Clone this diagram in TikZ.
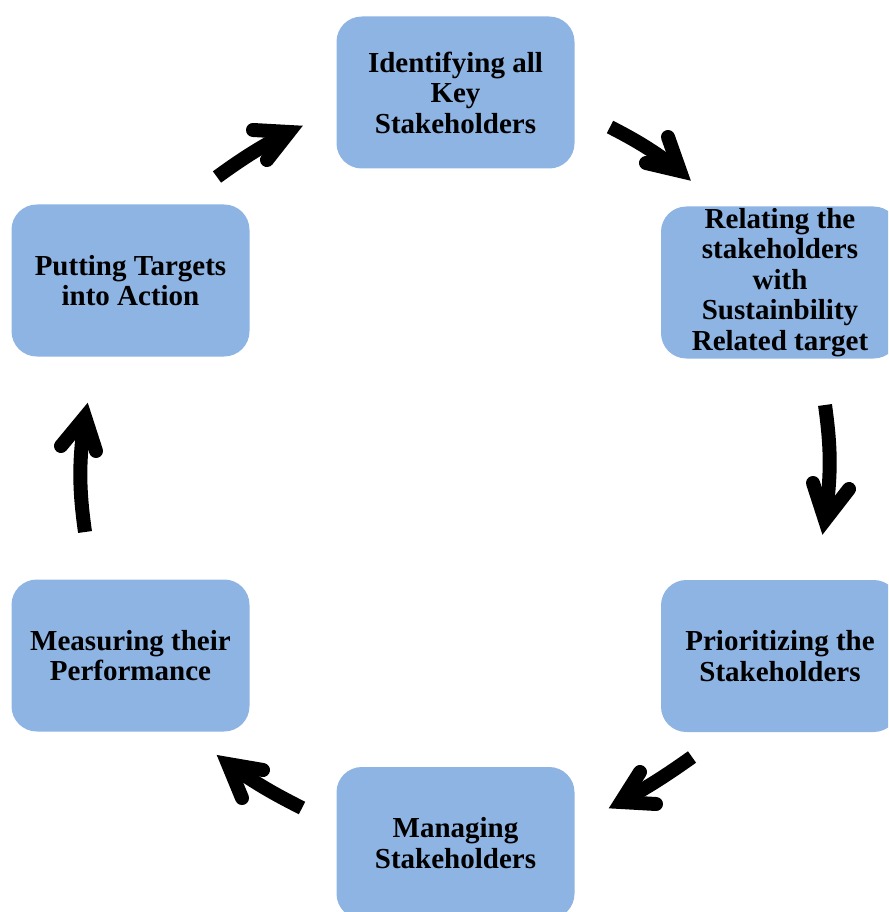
\documentclass[tikz,border=0pt]{standalone}
\usepackage{fontspec}
\setmainfont{Liberation Serif}
\definecolor{boxblue}{HTML}{8EB4E3}
\begin{document}
\begin{tikzpicture}[x=0.75pt,y=-0.75pt,
  box/.style={fill=boxblue, rounded corners=19pt, minimum width=178.5pt, minimum height=114pt,
    align=center, inner sep=0pt, font=\fontsize{21.75}{22.9}\selectfont\bfseries},
  shaft/.style={line width=10.5pt, line cap=butt},
  head/.style={line width=10.5pt, line cap=round, line join=miter, miter limit=10}]
\useasboundingbox (0,0) rectangle (888,912);
\clip (0,0) rectangle (888,912);
\node[box] (n1) at (455.5,92.5) {Identifying all\\Key\\Stakeholders};
\node[box] (n2) at (780,282.5) {Relating the\\stakeholders\\with\\Sustainbility\\Related target};
\node[box] (n3) at (780,656) {Prioritizing the\\Stakeholders};
\node[box] (n4) at (455.5,843) {Managing\\Stakeholders};
\node[box] (n5) at (130.5,655.5) {Measuring their\\Performance};
\node[box] (n6) at (130.5,280.5) {Putting Targets\\into Action};
% arrow 1
\coordinate (s1) at (217,177); \coordinate (j1) at (289,132);
\coordinate (a1) at (253,130); \coordinate (b1) at (267,160);
\draw[shaft] (s1) to[bend left=4] (j1);
\draw[head] (a1) -- (j1) -- (b1);
% arrow 2
\coordinate (s2) at (610,127); \coordinate (j2) at (680,171);
\coordinate (a2) at (668,137); \coordinate (b2) at (646,163);
\draw[shaft] (s2) to[bend left=5] (j2);
\draw[head] (a2) -- (j2) -- (b2);
% arrow 3
\coordinate (s3) at (825,405); \coordinate (j3) at (825,520);
\coordinate (a3) at (813,483); \coordinate (b3) at (849,489);
\draw[shaft] (s3) to[bend left=8] (j3);
\draw[head] (a3) -- (j3) -- (b3);
% arrow 4
\coordinate (s4) at (692,757); \coordinate (j4) at (621,802);
\coordinate (a4) at (640,772); \coordinate (b4) at (656,804);
\draw[shaft] (s4) to[bend left=3] (j4);
\draw[head] (a4) -- (j4) -- (b4);
% arrow 5
\coordinate (s5) at (302,808); \coordinate (j5) at (228,764);
\coordinate (a5) at (263,770); \coordinate (b5) at (242,798);
\draw[shaft] (s5) to[bend left=4] (j5);
\draw[head] (a5) -- (j5) -- (b5);
% arrow 6
\coordinate (s6) at (85,532); \coordinate (j6) at (85,417);
\coordinate (a6) at (61,446); \coordinate (b6) at (96,451);
\draw[shaft] (s6) to[bend left=8] (j6);
\draw[head] (a6) -- (j6) -- (b6);
\end{tikzpicture}
\end{document}
